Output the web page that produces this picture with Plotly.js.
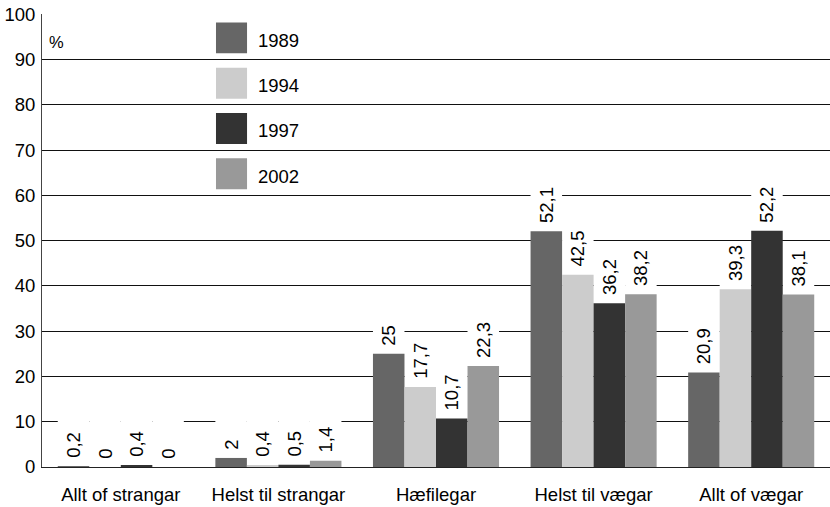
<!DOCTYPE html>
<html>
<head>
<meta charset="utf-8">
<script src="https://cdn.plot.ly/plotly-3.0.1.min.js"></script>
<style>
  body { margin: 0; background: #fff; }
  #plot1 { width: 830px; height: 507px; }
</style>
</head>
<body>
<div id="plot1"></div>
<script>
// categories on the x axis
let categories = ["Allt of strangar", "Helst til strangar", "Hæfilegar",
                  "Helst til vægar", "Allt of vægar"];

// percent per year
let years = ["1989", "1994", "1997", "2002"];
let v1989 = [0.2, 2, 25, 52.1, 20.9];
let v1994 = [0, 0.4, 17.7, 42.5, 39.3];
let v1997 = [0.4, 0.5, 10.7, 36.2, 52.2];
let v2002 = [0, 1.4, 22.3, 38.2, 38.1];

let colors = ["#666666", "#cccccc", "#333333", "#999999"];
let series = [v1989, v1994, v1997, v2002];

let fontFam = "Liberation Sans, Arial, sans-serif";
let fsize = 18.5;
let pxPerUnit = 453 / 100;

// danish decimal comma
function fmt(v) {
    return String(v).replace(".", ",");
}

// rough width of a label in px, to size the white box behind it
function labelPx(s) {
    let w = 0;
    for (let c of s) w += (c === "," ? 5.1 : 10.3);
    return w;
}

var data = [];

// white boxes behind the labels, they hide the grid lines like the original
series.forEach(function (vals, i) {
    data.push({
        x: categories,
        y: vals.map(function (v) {
            let top = v + (3 + 5 + labelPx(fmt(v)) + 3) / pxPerUnit;
            return Math.max(top, 11.5) - v;
        }),
        base: vals,
        type: "bar",
        offsetgroup: "g" + i,
        marker: { color: "#ffffff" },
        showlegend: false,
        hoverinfo: "skip"
    });
});

// the real bars
series.forEach(function (vals, i) {
    data.push({
        x: categories,
        y: vals,
        type: "bar",
        name: years[i],
        offsetgroup: "g" + i,
        marker: { color: colors[i] },
        text: vals.map(function (v) { return "\u00a0" + fmt(v); }),
        textposition: "outside",
        textangle: -90,
        constraintext: "none",
        cliponaxis: false,
        textfont: { family: fontFam, size: fsize, color: "#000" },
        showlegend: false
    });
});

// legend drawn by hand, with big squares
var shapes = [];
var annotations = [];
years.forEach(function (yr, i) {
    shapes.push({
        type: "rect", xref: "paper", yref: "y",
        x0: 0.2208, x1: 0.2602,
        y0: 91.4 - 10 * i, y1: 98.2 - 10 * i,
        fillcolor: colors[i], line: { width: 0 }, layer: "above"
    });
    annotations.push({
        xref: "paper", yref: "y", x: 0.271, y: 94.3 - 10 * i,
        xanchor: "left", yanchor: "middle", showarrow: false,
        text: yr, font: { family: fontFam, size: fsize, color: "#000" }
    });
});
annotations.push({
    xref: "paper", yref: "y", x: 0.006, y: 94.0,
    xanchor: "left", yanchor: "middle", showarrow: false,
    text: "%", font: { family: fontFam, size: 16.5, color: "#000" }
});

var layout = {
    width: 830,
    height: 507,
    margin: { l: 42, r: 0, t: 14, b: 40 },
    paper_bgcolor: "#fff",
    plot_bgcolor: "#fff",
    barmode: "group",
    bargap: 0.2,
    bargroupgap: 0,
    showlegend: false,
    font: { family: fontFam, size: fsize, color: "#000" },
    xaxis: {
        type: "category",
        showgrid: false,
        showline: true,
        linecolor: "#222",
        linewidth: 1,
        ticks: "outside",
        ticklen: 11,
        tickcolor: "rgba(0,0,0,0)",
        tickfont: { family: fontFam, size: fsize, color: "#000" }
    },
    yaxis: {
        range: [0, 100.1],
        dtick: 10,
        showgrid: true,
        gridcolor: "#111",
        gridwidth: 1,
        zeroline: false,
        showline: true,
        linecolor: "#444",
        linewidth: 1,
        ticks: "",
        ticklabelstandoff: 2,
        tickfont: { family: fontFam, size: fsize, color: "#000" }
    },
    shapes: shapes,
    annotations: annotations
};

Plotly.newPlot("plot1", data, layout, { displayModeBar: false });
</script>
</body>
</html>
